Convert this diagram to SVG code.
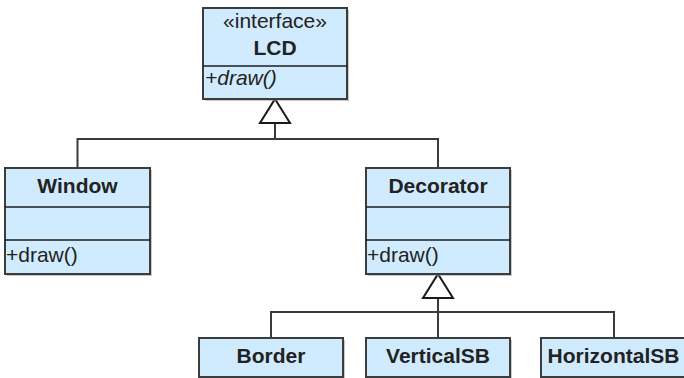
<svg xmlns="http://www.w3.org/2000/svg" width="684" height="378" viewBox="0 0 684 378">
<style>
.shadow{fill:#9a9a9a;opacity:0.55}
.box{fill:#d0ebfd;stroke:#3c3c3c;stroke-width:2}
.div{stroke:#1e1e1e;stroke-width:1.6}
.name{font-family:"Liberation Sans",Arial,sans-serif;font-size:21px;font-weight:bold;fill:#222;text-anchor:middle}
.stereo{font-family:"Liberation Sans",Arial,sans-serif;font-size:21px;fill:#222;text-anchor:middle}
.op{font-family:"Liberation Sans",Arial,sans-serif;font-size:21px;fill:#222}
.line{fill:none;stroke:#3a3a3a;stroke-width:2}
.tri{fill:#ffffff;stroke:#1a1a1a;stroke-width:2;stroke-linejoin:miter}
</style>
<rect width="684" height="378" fill="#ffffff"/>
<g id="connectors">
<polyline class="line" points="77.5,168 77.5,139 438,139 438,168"/>
<line class="line" x1="275" y1="123" x2="275" y2="139"/>
<polygon class="tri" points="275,99 290,123 260,123"/>
<polyline class="line" points="271,338 271,312 614,312 614,338"/>
<line class="line" x1="438" y1="298" x2="438" y2="338"/>
<polygon class="tri" points="438,274 453,298 423,298"/>
</g>
<g id="LCD">
<rect class="shadow" x="205" y="10" width="144" height="91"/>
<rect class="box" x="203" y="8" width="144" height="91"/>
<line class="div" x1="203" y1="66" x2="347" y2="66"/>
<text class="stereo" x="275" y="28">«interface»</text>
<text class="name" x="275" y="55">LCD</text>
<text class="op" x="205" y="85" font-style="italic">+draw()</text>
</g>
<g id="Window">
<rect class="shadow" x="7" y="170" width="145" height="106"/>
<rect class="box" x="5" y="168" width="145" height="106"/>
<line class="div" x1="5" y1="207" x2="150" y2="207"/>
<line class="div" x1="5" y1="240" x2="150" y2="240"/>
<text class="name" x="77.5" y="193">Window</text>
<text class="op" x="6" y="262">+draw()</text>
</g>
<g id="Decorator">
<rect class="shadow" x="368" y="170" width="144" height="106"/>
<rect class="box" x="366" y="168" width="144" height="106"/>
<line class="div" x1="366" y1="207" x2="510" y2="207"/>
<line class="div" x1="366" y1="240" x2="510" y2="240"/>
<text class="name" x="438" y="193">Decorator</text>
<text class="op" x="367" y="262">+draw()</text>
</g>
<g id="Border">
<rect class="shadow" x="201" y="340" width="144" height="39"/>
<rect class="box" x="199" y="338" width="144" height="39"/>
<text class="name" x="271" y="363">Border</text>
</g>
<g id="VerticalSB">
<rect class="shadow" x="368" y="340" width="144" height="39"/>
<rect class="box" x="366" y="338" width="144" height="39"/>
<text class="name" x="438" y="363">VerticalSB</text>
</g>
<g id="HorizontalSB">
<rect class="shadow" x="543" y="340" width="145" height="39"/>
<rect class="box" x="541" y="338" width="145" height="39"/>
<text class="name" x="613.5" y="363">HorizontalSB</text>
</g>
</svg>
